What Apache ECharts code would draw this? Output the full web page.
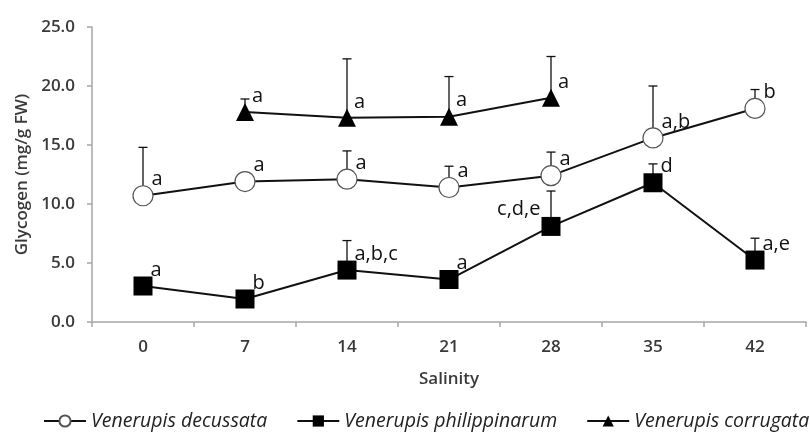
<!DOCTYPE html>
<html>
<head>
<meta charset="utf-8">
<script src="https://cdn.jsdelivr.net/npm/echarts@6/dist/echarts.min.js"></script>
<style>
  html, body { margin: 0; padding: 0; background: #fff; }
  #chart { width: 810px; height: 434px; }
</style>
</head>
<body>
<div id="chart"></div>
<script>
// Salinity levels (x categories)
const salinity = ['0', '7', '14', '21', '28', '35', '42'];
const yTicks = [0, 5, 10, 15, 20, 25];

// Venerupis decussata: mean glycogen, mean + error, significance letters
const decussataMean = [10.7, 11.9, 12.1, 11.4, 12.4, 15.6, 18.1];
const decussataErr = [14.8, 12.3, 14.5, 13.2, 14.4, 20.0, 19.7];
const decussataLetters = ['a', 'a', 'a', 'a', 'a', 'a,b', 'b'];

// Venerupis philippinarum
const philippinarumMean = [3.05, 1.95, 4.4, 3.6, 8.1, 11.8, 5.25];
const philippinarumErr = [3.3, 2.2, 6.9, 3.8, 11.1, 13.4, 7.1];
const philippinarumLetters = ['a', 'b', 'a,b,c', 'a', 'c,d,e', 'd', 'a,e'];

// Venerupis corrugata (not sampled at salinity 0, 35, 42)
const corrugataMean = [null, 17.8, 17.3, 17.4, 19.0, null, null];
const corrugataErr = [null, 18.9, 22.3, 20.8, 22.5, null, null];
const corrugataLetters = ['', 'a', 'a', 'a', 'a', '', ''];

const FONT = '"Open Sans", "Noto Sans", sans-serif';

// letters sit to the upper right of each marker, or upper left for listed indices
function withLetters(values, letters, leftIdx) {
  return values.map((v, i) => {
    if (v === null) return { value: null };
    const left = leftIdx.indexOf(i) >= 0;
    return {
      value: v,
      label: {
        show: true,
        formatter: letters[i],
        position: left ? 'left' : 'right',
        distance: 0,
        offset: left ? [-1, -17] : [-2, -16]
      }
    };
  });
}

function errData(means, errs) {
  const out = [];
  means.forEach((m, i) => {
    if (m !== null && errs[i] !== null) out.push([i, m, errs[i]]);
  });
  return out;
}

// upper-only error bars with a short cap
function errorSeries(name, means, errs) {
  return {
    type: 'custom',
    name: name + ' SE',
    z: 1,
    silent: true,
    renderItem: function (params, api) {
      const base = api.coord([api.value(0), api.value(1)]);
      const top = api.coord([api.value(0), api.value(2)]);
      const w = 4.5;
      return {
        type: 'group',
        children: [
          { type: 'line', shape: { x1: base[0], y1: base[1], x2: top[0], y2: top[1] },
            style: { stroke: '#111', lineWidth: 1.3 } },
          { type: 'line', shape: { x1: top[0] - w, y1: top[1], x2: top[0] + w, y2: top[1] },
            style: { stroke: '#111', lineWidth: 1.3 } }
        ]
      };
    },
    data: errData(means, errs)
  };
}

const labelStyle = { color: '#111', fontSize: 20, fontFamily: FONT };
const tickStyle = { color: '#3a3a3a', fontSize: 17, fontFamily: FONT, fontWeight: 600 };

const chart = echarts.init(document.getElementById('chart'));
chart.setOption({
  animation: false,
  backgroundColor: '#fff',
  grid: { left: 92, right: 4, top: 27, bottom: 112, containLabel: false },
  xAxis: {
    type: 'category',
    data: salinity,
    boundaryGap: true,
    name: 'Salinity',
    nameLocation: 'middle',
    nameGap: 49,
    nameTextStyle: { color: '#3a3a3a', fontSize: 17, fontFamily: FONT, fontWeight: 600 },
    axisLine: { lineStyle: { color: '#a6a6a6', width: 1.5 } },
    axisTick: { show: true, length: 5, lineStyle: { color: '#a6a6a6', width: 1.5 } },
    axisLabel: Object.assign({ margin: 17 }, tickStyle)
  },
  yAxis: {
    type: 'value',
    min: yTicks[0],
    max: yTicks[yTicks.length - 1],
    interval: 5,
    name: 'Glycogen (mg/g FW)',
    nameLocation: 'middle',
    nameGap: 61,
    nameRotate: 90,
    nameTextStyle: { color: '#3a3a3a', fontSize: 17, fontFamily: FONT, fontWeight: 600 },
    splitLine: { show: false },
    axisLine: { show: true, lineStyle: { color: '#a6a6a6', width: 1.5 } },
    axisTick: { show: true, length: 5, lineStyle: { color: '#a6a6a6', width: 1.5 } },
    axisLabel: Object.assign({ margin: 17, formatter: v => v.toFixed(1) }, tickStyle)
  },
  legend: {
    left: 43,
    top: 411,
    width: 1200,
    padding: 0,
    itemWidth: 42,
    itemHeight: 14,
    itemGap: 29,
    textStyle: { color: '#222', fontSize: 19.5, fontStyle: 'italic', fontFamily: FONT },
    data: ['Venerupis decussata', 'Venerupis philippinarum', 'Venerupis corrugata']
  },
  series: [
    errorSeries('Venerupis decussata', decussataMean, decussataErr),
    errorSeries('Venerupis philippinarum', philippinarumMean, philippinarumErr),
    errorSeries('Venerupis corrugata', corrugataMean, corrugataErr),
    {
      type: 'line',
      name: 'Venerupis decussata',
      z: 3,
      data: withLetters(decussataMean, decussataLetters, []),
      symbol: 'circle',
      symbolSize: 20,
      itemStyle: { color: '#fff', borderColor: '#555', borderWidth: 1.2 },
      lineStyle: { color: '#111', width: 2 },
      label: labelStyle
    },
    {
      type: 'line',
      name: 'Venerupis philippinarum',
      z: 3,
      data: withLetters(philippinarumMean, philippinarumLetters, [4]),
      symbol: 'rect',
      symbolSize: 19,
      itemStyle: { color: '#000', borderColor: '#000', borderWidth: 0 },
      lineStyle: { color: '#111', width: 2 },
      label: labelStyle
    },
    {
      type: 'line',
      name: 'Venerupis corrugata',
      z: 3,
      connectNulls: false,
      data: withLetters(corrugataMean, corrugataLetters, []),
      symbol: 'triangle',
      symbolSize: 18,
      itemStyle: { color: '#000', borderColor: '#000', borderWidth: 0 },
      lineStyle: { color: '#111', width: 2 },
      label: labelStyle
    }
  ]
});
</script>
</body>
</html>
